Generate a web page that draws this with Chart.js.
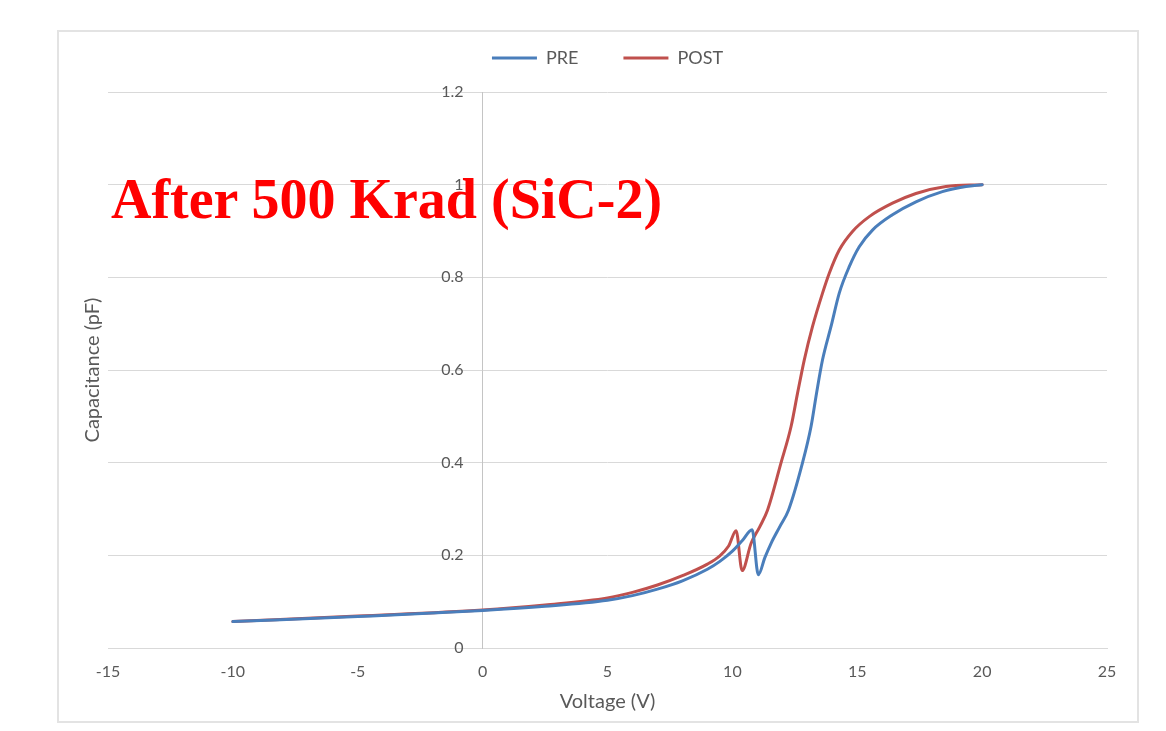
<!DOCTYPE html>
<html>
<head>
<meta charset="utf-8">
<title>C-V curves</title>
<script src="https://cdn.jsdelivr.net/npm/chart.js@4/dist/chart.umd.min.js"></script>
<style>
  html, body { margin: 0; padding: 0; background: #ffffff; }
  #wrap { position: relative; width: 1166px; height: 731px; overflow: hidden; }
  #frame { position: absolute; left: 57px; top: 30px; width: 1078px; height: 689px; border: 2px solid #e3e3e3; }
  #cv { position: absolute; left: 0; top: 0; }
  #stamp {
    position: absolute; left: 111px; top: 171px;
    font-family: "Liberation Serif", "DejaVu Serif", serif;
    font-weight: bold; font-size: 56px; line-height: 56px;
    color: #ff0000; white-space: nowrap;
  }
</style>
</head>
<body>
<div id="wrap">
  <div id="frame"></div>
  <canvas id="cv" width="1166" height="731"></canvas>
  <div id="stamp">After 500 Krad (SiC-2)</div>
</div>
<script>
// Gate voltage sweep (V) and measured capacitance (pF)
const voltagePre = [-10, -5, 0, 2.5, 5, 6, 7, 8, 9, 9.5, 10, 10.4, 10.79, 11.04, 11.3, 11.55, 11.9, 12.25, 12.81, 13.15, 13.37, 13.61, 13.95, 14.28, 14.68, 15.08, 15.61, 16.41, 17.35, 18.41, 19.35, 20];
const capPre     = [0.057, 0.068, 0.081, 0.090, 0.103, 0.113, 0.127, 0.145, 0.170, 0.187, 0.209, 0.232, 0.255, 0.158, 0.195, 0.226, 0.262, 0.298, 0.400, 0.478, 0.550, 0.622, 0.694, 0.766, 0.823, 0.866, 0.902, 0.935, 0.963, 0.985, 0.996, 1.000];

const voltagePost = [-10, -5, 0, 2.5, 5, 6, 7, 8, 9, 9.5, 9.85, 10.15, 10.39, 10.75, 11.1, 11.41, 11.95, 12.35, 12.61, 12.88, 13.21, 13.61, 13.88, 14.28, 14.81, 15.48, 16.41, 17.35, 18.55, 20];
const capPost     = [0.057, 0.069, 0.082, 0.093, 0.108, 0.120, 0.136, 0.156, 0.181, 0.199, 0.220, 0.253, 0.167, 0.226, 0.262, 0.298, 0.400, 0.478, 0.550, 0.622, 0.694, 0.766, 0.809, 0.859, 0.899, 0.931, 0.960, 0.981, 0.996, 1.000];

const seriesNames = ['PRE', 'POST'];
const xTickLabels = ['-15', '-10', '-5', '0', '5', '10', '15', '20', '25'];
const yTickLabels = ['0', '0.2', '0.4', '0.6', '0.8', '1', '1.2'];

const fontFamily = 'Lato, "Liberation Sans", sans-serif';
const labelColor = '#595959';

function toPoints(xs, ys) {
  return xs.map((x, i) => ({ x: x, y: ys[i] }));
}

// Legend band of fixed height, and a small gap between the zero-volt axis and its labels
const axisHelpers = {
  id: 'axisHelpers',
  beforeInit(chart) {
    const legend = chart.legend;
    if (legend) {
      const fit = legend.fit;
      legend.fit = function () {
        fit.call(this);
        this.height = 88;
      };
    }
  },
  beforeDraw(chart) {
    const scale = chart.scales.y;
    const items = scale.getLabelItems(chart.chartArea);
    if (!items._gapApplied) {
      items.forEach((item) => { item.options.translation[0] -= 19; });
      items._gapApplied = true;
    }
  }
};

function lineDataset(label, xs, ys, color) {
  return {
    label: label,
    data: toPoints(xs, ys),
    borderColor: color,
    backgroundColor: color,
    borderWidth: 3,
    showLine: true,
    pointRadius: 0,
    pointStyle: 'line',
    cubicInterpolationMode: 'monotone',
    borderCapStyle: 'round',
    borderJoinStyle: 'round'
  };
}

new Chart(document.getElementById('cv'), {
  type: 'scatter',
  data: {
    datasets: [
      lineDataset(seriesNames[0], voltagePre, capPre, '#4a7ebb'),
      lineDataset(seriesNames[1], voltagePost, capPost, '#c0504d')
    ]
  },
  options: {
    responsive: false,
    animation: false,
    layout: { padding: { left: 57, right: 59, top: 4, bottom: 0 } },
    plugins: {
      legend: {
        display: true,
        position: 'top',
        align: 'center',
        fullSize: false,
        labels: {
          usePointStyle: true,
          pointStyle: 'line',
          pointStyleWidth: 45,
          padding: 45,
          color: labelColor,
          font: { family: fontFamily, size: 18 }
        }
      },
      tooltip: { enabled: false }
    },
    scales: {
      x: {
        type: 'linear',
        min: -15,
        max: 25,
        afterFit(scale) { scale.height = 83; },
        ticks: {
          stepSize: 5,
          padding: 14,
          color: labelColor,
          font: { family: fontFamily, size: 16 },
          maxRotation: 0,
          callback: (v, i) => xTickLabels[i]
        },
        grid: { display: false, drawTicks: false },
        border: { display: true, color: '#d9d9d9', width: 1 },
        title: {
          display: true,
          text: 'Voltage (V)',
          color: labelColor,
          font: { family: fontFamily, size: 20 },
          padding: { top: 0, bottom: 17 }
        }
      },
      // value axis crossing at 0 V
      y: {
        type: 'linear',
        position: { x: 0 },
        min: 0,
        max: 1.2,
        ticks: {
          stepSize: 0.2,
          padding: 0,
          color: labelColor,
          font: { family: fontFamily, size: 16 },
          callback: (v, i) => yTickLabels[i]
        },
        grid: { color: '#d9d9d9', lineWidth: 1, drawTicks: false },
        border: { display: true, color: '#c4c4c4', width: 1 }
      },
      // left-hand band that carries the axis caption
      yCaption: {
        type: 'linear',
        axis: 'y',
        position: 'left',
        min: 0,
        max: 1.2,
        afterFit(scale) { scale.width = 51; },
        ticks: { display: false },
        grid: { display: false, drawTicks: false },
        border: { display: false },
        title: {
          display: true,
          text: 'Capacitance (pF)',
          color: labelColor,
          font: { family: fontFamily, size: 20 },
          padding: { top: 24, bottom: 0 }
        }
      }
    }
  },
  plugins: [axisHelpers]
});
</script>
</body>
</html>
